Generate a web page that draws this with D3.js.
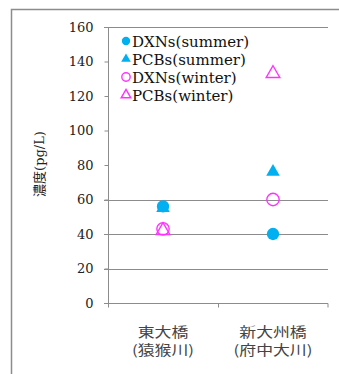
<!DOCTYPE html>
<html>
<head>
<meta charset="utf-8">
<script src="https://cdn.jsdelivr.net/npm/d3@7"></script>
<style>
  html, body { margin: 0; padding: 0; background: #fff; }
  svg { display: block; }
</style>
</head>
<body>
<svg id="chart" width="339" height="374"></svg>
<script>
// Sampling sites (two-line labels)
const sites = ["東大橋\n(猿猴川)", "新大州橋\n(府中大川)"];
// Concentrations (pg/L) per site
const dxnSummer = [56, 40];
const pcbSummer = [55, 76];
const dxnWinter = [43, 60];
const pcbWinter = [42, 133];
const yTicks = [0, 20, 40, 60, 80, 100, 120, 140, 160];
const gridValues = [0, 20, 40, 60, 160];
const seriesNames = ["DXNs(summer)", "PCBs(summer)", "DXNs(winter)", "PCBs(winter)"];

const BLUE = "#00B0F0", PINK = "#FF33FF", AXIS = "#8c8c8c";

const series = [
  { name: seriesNames[0], values: dxnSummer, shape: "circle", fill: true, color: BLUE },
  { name: seriesNames[1], values: pcbSummer, shape: "triangle", fill: true, color: BLUE },
  { name: seriesNames[2], values: dxnWinter, shape: "circle", fill: false, color: PINK },
  { name: seriesNames[3], values: pcbWinter, shape: "triangle", fill: false, color: PINK }
];

const svg = d3.select("#chart");

// outer chart frame (runs off the right and bottom edges)
svg.append("rect")
  .attr("x", 11.5).attr("y", 9.5).attr("width", 400).attr("height", 400)
  .attr("fill", "none").attr("stroke", AXIS).attr("stroke-width", 1.5);

const plot = { left: 108, right: 328, top: 27, bottom: 303 };

const y = d3.scaleLinear().domain([0, 160]).range([plot.bottom, plot.top]);
const x = d3.scaleBand().domain(sites).range([plot.left, plot.right]).padding(0);
const cx = s => x(s) + x.bandwidth() / 2;

// gridlines
svg.append("g").selectAll("line").data(gridValues).join("line")
  .attr("x1", plot.left - 4).attr("x2", plot.right)
  .attr("y1", d => Math.round(y(d)) + 0.5).attr("y2", d => Math.round(y(d)) + 0.5)
  .attr("stroke", AXIS).attr("stroke-width", 1);

// y axis
const yAxis = svg.append("g").attr("transform", `translate(${plot.left + 0.5},0)`)
  .call(d3.axisLeft(y).tickValues(yTicks).tickSize(4).tickPadding(11).tickFormat(d3.format("d")));
yAxis.select(".domain").attr("stroke", AXIS).attr("d", `M-0,${plot.top}V${plot.bottom + 4}`);
yAxis.selectAll(".tick line").attr("stroke", AXIS);
yAxis.selectAll(".tick text")
  .attr("font-family", "'DejaVu Serif', serif").attr("font-size", 13).attr("fill", "#222");

// x axis
const xAxis = svg.append("g").attr("transform", `translate(0,${Math.round(plot.bottom) + 0.5})`);
xAxis.append("line").attr("x1", plot.left).attr("x2", plot.right)
  .attr("stroke", AXIS);
xAxis.selectAll("line.tk").data(sites.concat([null])).join("line").attr("class", "tk")
  .attr("x1", d => d === null ? plot.right : x(d) + 0.5)
  .attr("x2", d => d === null ? plot.right : x(d) + 0.5)
  .attr("y1", 0).attr("y2", 4).attr("stroke", AXIS);

// category labels
const catG = svg.append("g");
sites.forEach(s => {
  const lines = s.split("\n");
  lines.forEach((ln, i) => {
    catG.append("text")
      .attr("transform", `translate(${cx(s)},${337 + i * 18}) scale(1.25,1)`)
      .attr("text-anchor", "middle")
      .attr("font-family", "'Noto Sans CJK JP', sans-serif")
      .attr("font-size", 13.5).attr("fill", "#444")
      .text(ln);
  });
});

// y axis title
svg.append("text")
  .attr("transform", "translate(44,164) rotate(-90)")
  .attr("text-anchor", "middle")
  .attr("font-family", "'DejaVu Serif', 'Noto Sans CJK JP', serif")
  .attr("font-size", 13).attr("fill", "#222")
  .text("濃度(pg/L)");

// marker symbols
function drawMarker(g, shape, fill, color, size) {
  const sym = shape === "circle" ? d3.symbolCircle : d3.symbolTriangle;
  return g.append("path")
    .attr("d", d3.symbol().type(sym).size(size)())
    .attr("fill", fill ? color : "#fff")
    .attr("fill-opacity", fill ? 1 : 0)
    .attr("stroke", color)
    .attr("stroke-width", fill ? 0 : 1.4);
}

// data points
series.forEach(sr => {
  sr.values.forEach((v, i) => {
    const g = svg.append("g").attr("transform", `translate(${cx(sites[i])},${y(v)})`);
    drawMarker(g, sr.shape, sr.fill, sr.color, sr.shape === "circle" ? 120 : 80);
  });
});

// legend
const legend = svg.append("g");
series.forEach((sr, i) => {
  const ly = 41 + i * 18;
  const g = legend.append("g").attr("transform", `translate(126,${ly})`);
  drawMarker(g, sr.shape, sr.fill, sr.color, sr.shape === "circle" ? 55 : 40);
  legend.append("text")
    .attr("x", 132).attr("y", ly + 5.5)
    .attr("font-family", "'DejaVu Serif', serif").attr("font-size", 15).attr("fill", "#111")
    .text(sr.name);
});
</script>
</body>
</html>
